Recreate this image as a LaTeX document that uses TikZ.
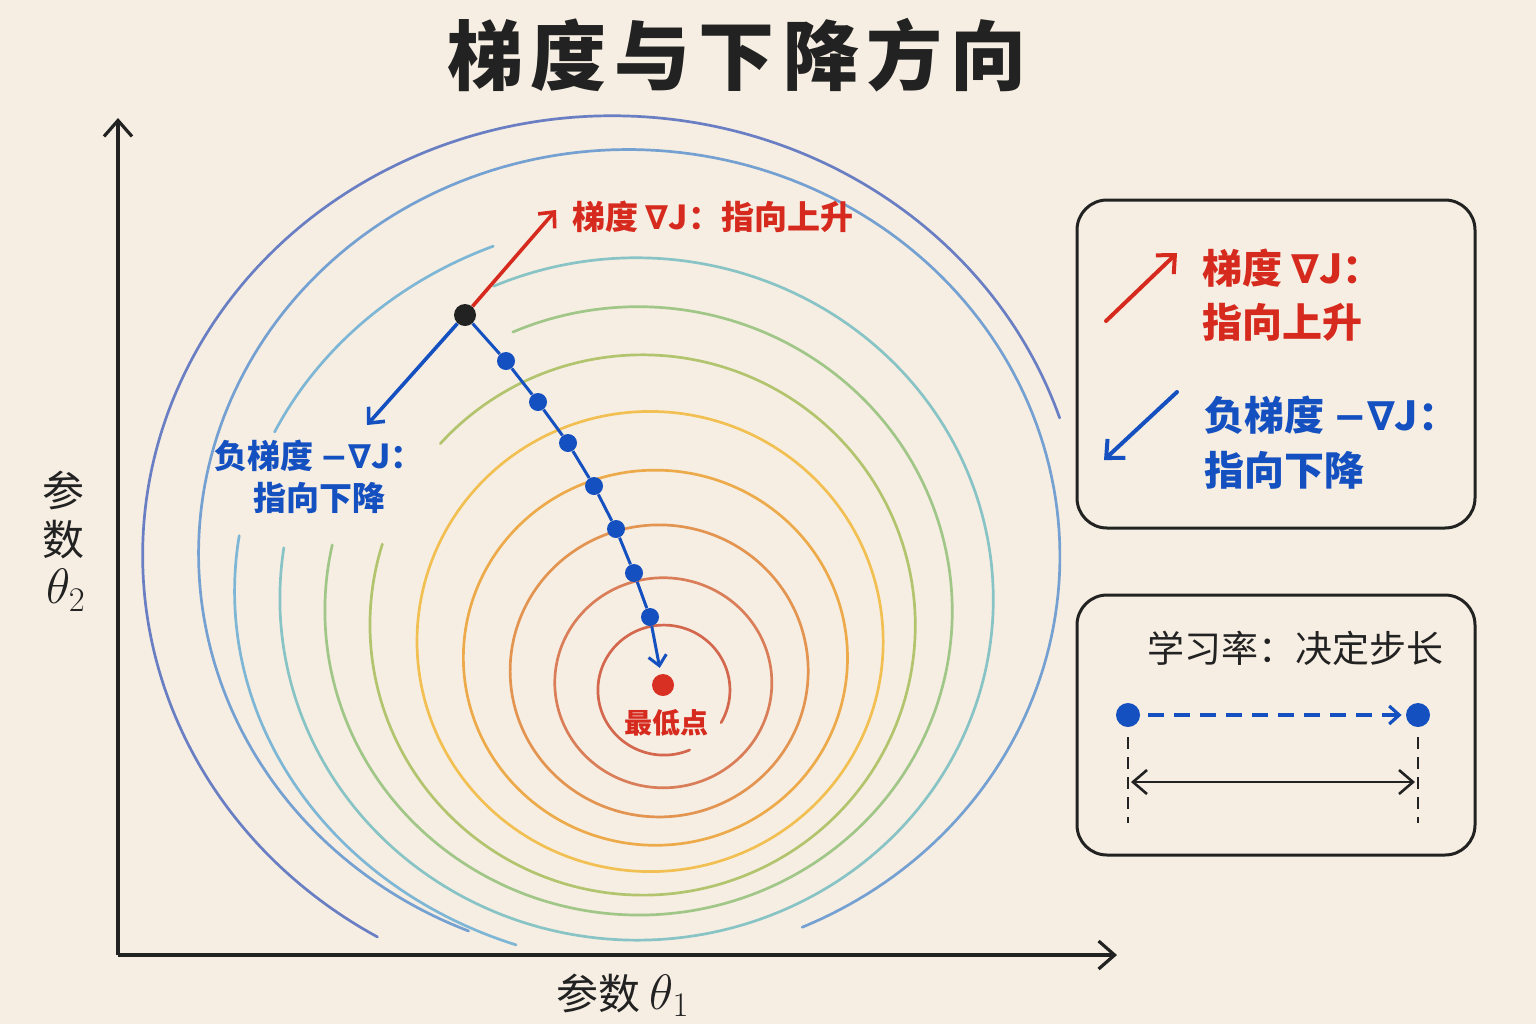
\documentclass[tikz,border=0pt]{standalone}
\usepackage{fontspec}
\newfontfamily\cjk{Noto Sans CJK SC}
\newfontfamily\dv{DejaVu Sans}
\usetikzlibrary{arrows.meta}
\definecolor{bgc}{HTML}{F6EEE2}
\definecolor{ink}{HTML}{222222}
\definecolor{gred}{HTML}{D62A1E}
\definecolor{gblue}{HTML}{1450C0}
\definecolor{mred}{HTML}{D83022}
\definecolor{cA}{HTML}{D4684E}
\definecolor{cB}{HTML}{D97E58}
\definecolor{cC}{HTML}{E39450}
\definecolor{cD}{HTML}{EDAA4A}
\definecolor{cE}{HTML}{F2C052}
\definecolor{cF}{HTML}{B2C46E}
\definecolor{cG}{HTML}{A0C688}
\definecolor{cH}{HTML}{88C3C6}
\definecolor{cI}{HTML}{7EB6D6}
\definecolor{cJ}{HTML}{74A0D2}
\definecolor{cK}{HTML}{6A7EC4}
\newcommand{\cpath}[8]{\draw[ctr,draw=#1] plot[domain=#7:#8,samples=220,variable=\t] ({#2+#4*cos(\t)*(1+#6*cos(\t+45))},{#3+#5*sin(\t)*(1+#6*cos(\t+45))});}
\tikzset{
  ctr/.style={line width=1.35pt, line cap=round},
  axisline/.style={line width=1.6pt, draw=ink, -{Straight Barb[length=8pt,width=14pt]}},
  lab/.style={font=\cjk\fontsize{21}{24}\selectfont, text=ink, inner sep=0pt},
  pdot/.style={circle, fill=gblue, minimum size=9pt, inner sep=0pt},
  stepline/.style={line width=1.5pt, draw=gblue},
  gradarrow/.style={line width=1.8pt, -{Straight Barb[length=6pt,width=11pt]}},
  redlab/.style={font=\cjk\fontsize{16.5}{21}\selectfont\bfseries, text=gred, inner sep=1pt},
  bluelab/.style={font=\cjk\fontsize{16.5}{21}\selectfont\bfseries, text=gblue, inner sep=1pt, align=center},
  legbox/.style={draw=ink, line width=1.5pt, rounded corners=15pt},
  legtxt/.style={font=\cjk\fontsize{20}{24}\selectfont\bfseries, inner sep=0pt, anchor=west},
  legarrow/.style={line width=2pt, line cap=round, -{Straight Barb[length=7pt,width=13pt]}},
}
\begin{document}
\begin{tikzpicture}[x=0.5pt,y=-0.5pt]
\fill[bgc] (0,0) rectangle (1536,1024);
\useasboundingbox (0,0) rectangle (1536,1024);

% contours
\cpath{cA}{663}{691}{66}{65}{0.02}{66}{389}
\cpath{cB}{661}{685}{108.5}{105}{0.03}{0}{360}
\cpath{cC}{656}{674}{149}{146}{0.03}{0}{360}
\cpath{cD}{650}{663}{192}{187.5}{0.04}{0}{360}
\cpath{cE}{643.5}{648}{233}{230}{0.04}{0}{360}
\cpath{cF}{633}{634.5}{272.5}{270}{0.05}{225}{560}
\cpath{cG}{627.5}{621.6}{313.5}{304}{0.05}{249}{555}
\cpath{cH}{624}{611}{356.5}{341}{0.05}{249}{551}
\cpath{cI}{640}{605}{420}{374}{0.05}{108}{191}
\cpath{cI}{640}{605}{420}{374}{0.05}{208}{250}
\cpath{cJ}{605}{578}{430}{405}{0.08}{110}{422}
\cpath{cK}{590}{578}{470}{440}{0.07}{119}{340}

% title
\node[font=\cjk\fontsize{38}{40}\selectfont\bfseries, text=ink] (title) at (737,55)
  {梯\hspace{4pt}度\hspace{4pt}与\hspace{4pt}下\hspace{4pt}降\hspace{4pt}方\hspace{4pt}向};

% axes
\coordinate (O) at (118,955);
\coordinate (Ytop) at (118,118);
\coordinate (Xend) at (1117,955);
\draw[axisline] (O) -- (Ytop);
\draw[axisline] (O) -- (Xend);
\node[lab] (yl1) at (63,490) {参};
\node[lab] (yl2) at (63,540) {数};
\node[lab] (yl3) at (66,590) {\fontsize{27}{30}\selectfont$\theta_2$};
\node[lab, anchor=west] (xl) at (556,995) {参数 {\fontsize{27}{30}\selectfont$\theta_1$}};

% descent path
\node[circle, fill=ink, minimum size=11pt, inner sep=0pt] (B) at (465,315) {};
\node[pdot] (P1) at (506,361) {};
\node[pdot] (P2) at (538,402) {};
\node[pdot] (P3) at (568,443) {};
\node[pdot] (P4) at (594,486) {};
\node[pdot] (P5) at (616,529) {};
\node[pdot] (P6) at (634,573) {};
\node[pdot] (P7) at (650,617) {};
\node[circle, fill=mred, minimum size=11pt, inner sep=0pt] (M) at (663,685) {};
\draw[stepline] (B) -- (P1) -- (P2) -- (P3) -- (P4) -- (P5) -- (P6) -- (P7);
\draw[stepline, -{Straight Barb[length=5pt,width=9pt]}, shorten >=3pt] (P7) -- (M);

\coordinate (gEnd) at (556,210);
\coordinate (ngEnd) at (367,425);
\draw[gradarrow, draw=gred] (B) -- (gEnd);
\draw[gradarrow, draw=gblue] (B) -- (ngEnd);

\node[redlab, anchor=west] (glab) at (570,217) {梯度 {\dv ∇}J：指向上升};
\node[bluelab] (nglab) at (319,477) {负梯度 {\dv −∇}J：\\指向下降};
\node[font=\cjk\fontsize{14}{16}\selectfont\bfseries, text=gred] (mlab) at (666,723) {最低点};

% legend box 1
\draw[legbox] (1077,200) rectangle (1475,528);
\coordinate (la1s) at (1106,321);
\coordinate (la1e) at (1177,253);
\coordinate (la2s) at (1177,392);
\coordinate (la2e) at (1104,460);
\draw[legarrow, draw=gred] (la1s) -- (la1e);
\draw[legarrow, draw=gblue] (la2s) -- (la2e);
\node[legtxt, text=gred] (lt1) at (1202,268) {梯度 {\dv ∇}J：};
\node[legtxt, text=gred] (lt2) at (1202,322) {指向上升};
\node[legtxt, text=gblue] (lt3) at (1204,415) {负梯度 {\dv −∇}J：};
\node[legtxt, text=gblue] (lt4) at (1204,470) {指向下降};

% legend box 2
\draw[legbox] (1077,595) rectangle (1475,855);
\node[font=\cjk\fontsize{18.5}{22}\selectfont, text=ink] (lr) at (1295,648) {学习率：决定步长};
\node[circle, fill=gblue, minimum size=12pt, inner sep=0pt] (D1) at (1128,715) {};
\node[circle, fill=gblue, minimum size=12pt, inner sep=0pt] (D2) at (1418,715) {};
\draw[line width=1.6pt, draw=gblue, dash pattern=on 8pt off 5pt, -{Straight Barb[length=5pt,width=9pt]}, shorten <=4pt, shorten >=2pt] (D1) -- (D2);
\coordinate (V1a) at (1128,737);
\coordinate (V1b) at (1128,823);
\coordinate (V2a) at (1418,737);
\coordinate (V2b) at (1418,823);
\draw[line width=1.1pt, draw=ink, dash pattern=on 6pt off 4pt] (V1a) -- (V1b);
\draw[line width=1.1pt, draw=ink, dash pattern=on 6pt off 4pt] (V2a) -- (V2b);
\coordinate (H1) at (1131,782);
\coordinate (H2) at (1415,782);
\draw[line width=1.3pt, draw=ink, {Straight Barb[length=7pt,width=12pt]}-{Straight Barb[length=7pt,width=12pt]}] (H1) -- (H2);
\end{tikzpicture}
\end{document}
